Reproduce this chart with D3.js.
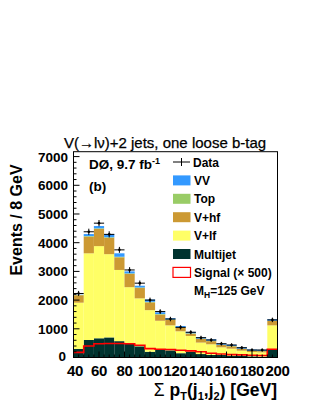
<!DOCTYPE html>
<html>
<head>
<meta charset="utf-8">
<script src="https://cdn.jsdelivr.net/npm/d3@7"></script>
<style>
  body { margin: 0; background: #fff; }
  text { font-family: "Liberation Sans", Arial, Helvetica, sans-serif; }
</style>
</head>
<body>
<svg id="chart" width="316" height="409"></svg>
<script>
'use strict'

// bin edges: 40..200 in 8 GeV steps (last bin holds overflow)
const binLo = [40, 48, 56, 64, 72, 80, 88, 96, 104, 112, 120, 128, 136, 144, 152, 160, 168, 176, 184, 192];
const binWidth = 8;

// background components, bottom to top
const multijet = [300, 610, 670, 700, 570, 470, 390, 200, 290, 250, 150, 210, 120, 90, 90, 60, 60, 40, 30, 280];
const vlf      = [1610, 3020, 3210, 2900, 2480, 1980, 1670, 1450, 990, 870, 763, 540, 400, 370, 265, 247, 177, 150, 150, 840];
const vhf      = [260, 580, 600, 570, 440, 460, 360, 270, 215, 190, 125, 80, 125, 110, 80, 83, 60, 40, 40, 152];
const topq     = [10, 20, 20, 20, 20, 20, 20, 20, 20, 20, 15, 15, 15, 15, 10, 10, 10, 8, 8, 10];
const vv       = [10, 70, 80, 110, 120, 70, 60, 80, 60, 40, 45, 45, 40, 50, 40, 40, 50, 40, 40, 50];

const data     = [2230, 4380, 4680, 4290, 3750, 3050, 2590, 2000, 1600, 1340, 1050, 880, 690, 610, 480, 435, 340, 260, 260, 1310];
const signal   = [180, 400, 480, 490, 490, 480, 425, 310, 285, 280, 250, 230, 200, 150, 120, 100, 90, 80, 70, 285];

const yTicks = [0, 1000, 2000, 3000, 4000, 5000, 6000, 7000];
const xTicks = [40, 60, 80, 100, 120, 140, 160, 180, 200];

const keys = ['multijet', 'vlf', 'vhf', 'topq', 'vv'];
const colors = {
  multijet: '#00332f',
  vlf: '#ffff66',
  vhf: '#cc9933',
  topq: '#99cc66',
  vv: '#3399ff'
};

const rows = binLo.map((lo, i) => ({
  lo: lo,
  multijet: multijet[i],
  vlf: vlf[i],
  vhf: vhf[i],
  topq: topq[i],
  vv: vv[i]
}));

const svg = d3.select('#chart');

const x = d3.scaleLinear().domain([40, 200]).range([73.5, 277.5]);
const y = d3.scaleLinear().domain([0, 7170]).range([357.5, 151.7]);

// stacked backgrounds
const series = d3.stack().keys(keys)(rows);
svg.append('g')
  .selectAll('g')
  .data(series)
  .join('g')
    .attr('fill', d => colors[d.key])
  .selectAll('rect')
  .data(d => d)
  .join('rect')
    .attr('x', d => x(d.data.lo))
    .attr('width', d => x(d.data.lo + binWidth) - x(d.data.lo))
    .attr('y', d => y(d[1]))
    .attr('height', d => y(d[0]) - y(d[1]));

// signal x500 outline
const sigPts = binLo.map((lo, i) => [lo, signal[i]]);
sigPts.push([200, signal[signal.length - 1]]);
svg.append('path')
  .datum(sigPts)
  .attr('fill', 'none')
  .attr('stroke', '#ff0000')
  .attr('stroke-width', 1.6)
  .attr('d', d3.line().x(d => x(d[0])).y(d => y(d[1])).curve(d3.curveStepAfter));

// data points with errors
const pts = svg.append('g').attr('stroke', '#000').attr('stroke-width', 1);
binLo.forEach((lo, i) => {
  const v = data[i];
  const err = Math.sqrt(v);
  const cx = x(lo + binWidth / 2);
  pts.append('line')
    .attr('x1', x(lo)).attr('x2', x(lo + binWidth))
    .attr('y1', y(v)).attr('y2', y(v));
  pts.append('line')
    .attr('x1', cx).attr('x2', cx)
    .attr('y1', y(v + err) - 1.2).attr('y2', y(v - err) + 1.2);
  pts.append('circle')
    .attr('cx', cx).attr('cy', y(v)).attr('r', 1.3)
    .attr('fill', '#000').attr('stroke', 'none');
});

// frame
svg.append('rect')
  .attr('x', 73.5).attr('y', 151.7)
  .attr('width', 204).attr('height', 205.8)
  .attr('fill', 'none').attr('stroke', '#000').attr('stroke-width', 1);

// y axis ticks (inside) and labels
const yMinor = d3.range(0, 7170, 200);
svg.append('g').selectAll('line')
  .data(yMinor)
  .join('line')
    .attr('x1', 73.5)
    .attr('x2', d => 73.5 + (d % 1000 === 0 ? 6 : 3))
    .attr('y1', d => y(d)).attr('y2', d => y(d))
    .attr('stroke', '#000');
svg.append('g').selectAll('text')
  .data(yTicks)
  .join('text')
    .attr('x', d => d === 0 ? 66 : 68)
    .attr('y', d => y(d) + (d === 0 ? 3.5 : 5))
    .attr('text-anchor', 'end')
    .attr('font-size', 13.5)
    .attr('font-weight', 'bold')
    .text(d => d);

// x axis ticks (inside) and labels
const xMinor = d3.range(40, 201, 4);
svg.append('g').selectAll('line')
  .data(xMinor)
  .join('line')
    .attr('x1', d => x(d)).attr('x2', d => x(d))
    .attr('y1', 357.5)
    .attr('y2', d => 357.5 - ((d - 40) % 20 === 0 ? 6 : 3))
    .attr('stroke', '#000');
svg.append('g').selectAll('text')
  .data(xTicks)
  .join('text')
    .attr('x', d => x(d) + (d === 40 ? 1.5 : 0))
    .attr('y', 375.5)
    .attr('text-anchor', 'middle')
    .attr('font-size', 15)
    .attr('font-weight', 'bold')
    .attr('letter-spacing', -0.3)
    .text(d => d);

// axis titles
svg.append('text')
  .attr('transform', 'translate(22,220) rotate(-90)')
  .attr('text-anchor', 'middle')
  .attr('font-size', 16)
  .attr('font-weight', 'bold')
  .text('Events / 8 GeV');

const xl = svg.append('text')
  .attr('x', 277)
  .attr('y', 395.5)
  .attr('text-anchor', 'end')
  .attr('font-size', 17.5)
  .attr('font-weight', 'bold');
xl.append('tspan').attr('font-weight', 'normal').text('\u03A3 ');
xl.append('tspan').text('p');
xl.append('tspan').attr('font-size', 11).attr('dy', 4).text('T');
xl.append('tspan').attr('dy', -4).text('(j');
xl.append('tspan').attr('font-size', 11).attr('dy', 4).text('1');
xl.append('tspan').attr('dy', -4).text(',j');
xl.append('tspan').attr('font-size', 11).attr('dy', 4).text('2');
xl.append('tspan').attr('dy', -4).text(') [GeV]');

// title
svg.append('text')
  .attr('x', 165)
  .attr('y', 148)
  .attr('text-anchor', 'middle')
  .attr('font-size', 15)
  .attr('font-weight', 500)
  .attr('stroke', '#000')
  .attr('stroke-width', 0.25)
  .text('V(\u2192l\u03BD)+2 jets, one loose b-tag');

// experiment label
const lab = svg.append('text')
  .attr('x', 89).attr('y', 168.5)
  .attr('font-size', 13.5)
  .attr('font-weight', 'bold');
lab.append('tspan').text('D\u00D8, 9.7 fb');
lab.append('tspan').attr('font-size', 9).attr('dy', -5).text('-1');
svg.append('text')
  .attr('x', 89).attr('y', 190.5)
  .attr('font-size', 13.5)
  .attr('font-weight', 'bold')
  .text('(b)');

// legend
const legRows = [
  { label: 'VV', fill: colors.vv },
  { label: 'Top', fill: colors.topq },
  { label: 'V+hf', fill: colors.vhf },
  { label: 'V+lf', fill: colors.vlf },
  { label: 'Multijet', fill: colors.multijet },
  { label: 'Signal (\u00D7 500)', fill: '#fff', stroke: '#ff0000' }
];
const legX = 173, legY0 = 162, legStep = 18.4;
const lg = svg.append('g');
lg.append('line').attr('x1', legX).attr('x2', legX + 17).attr('y1', legY0).attr('y2', legY0).attr('stroke', '#000');
lg.append('line').attr('x1', legX + 8.5).attr('x2', legX + 8.5).attr('y1', legY0 - 4).attr('y2', legY0 + 4).attr('stroke', '#000');
lg.append('text').attr('x', legX + 20).attr('y', legY0 + 4.5)
  .attr('font-size', 12).attr('font-weight', 'bold').text('Data');
legRows.forEach((r, i) => {
  const cy = legY0 + legStep * (i + 1);
  lg.append('rect')
    .attr('x', legX).attr('y', cy - 5)
    .attr('width', 17.5).attr('height', 10)
    .attr('fill', r.fill)
    .attr('stroke', r.stroke || 'none')
    .attr('stroke-width', 1.2);
  lg.append('text').attr('x', legX + 21).attr('y', cy + 4.5)
    .attr('font-size', 12).attr('font-weight', 'bold').text(r.label);
});
const mh = lg.append('text').attr('x', legX + 21).attr('y', legY0 + legStep * 7 + 4.5)
  .attr('font-size', 12).attr('font-weight', 'bold');
mh.append('tspan').text('M');
mh.append('tspan').attr('font-size', 8.5).attr('dy', 3).text('H');
mh.append('tspan').attr('dy', -3).text('=125 GeV');
</script>
</body>
</html>
